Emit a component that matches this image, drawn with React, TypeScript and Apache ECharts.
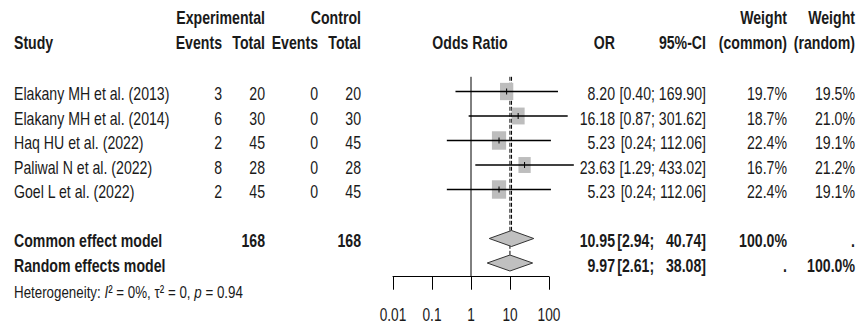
import React, { useEffect, useRef } from "react";
import * as echarts from "echarts";

// ---------- data ----------
const studies = [
  "Elakany MH et al. (2013)",
  "Elakany MH et al. (2014)",
  "Haq HU et al. (2022)",
  "Paliwal N et al. (2022)",
  "Goel L et al. (2022)",
];
const expEvents = [3, 6, 2, 8, 2];
const expTotal = [20, 30, 45, 28, 45];
const ctrlEvents = [0, 0, 0, 0, 0];
const ctrlTotal = [20, 30, 45, 28, 45];
const oddsRatio = [8.2, 16.18, 5.23, 23.63, 5.23];
const ciLower = [0.4, 0.87, 0.24, 1.29, 0.24];
const ciUpper = [169.9, 301.62, 112.06, 433.02, 112.06];
const weightCommon = [19.7, 18.7, 22.4, 16.7, 22.4];
const weightRandom = [19.5, 21.0, 19.1, 21.2, 19.1];

const pooledNames = ["Common effect model", "Random effects model"];
const pooledOR = [10.95, 9.97];
const pooledLower = [2.94, 2.61];
const pooledUpper = [40.74, 38.08];
const pooledWeightCommon = ["100.0%", "."];
const pooledWeightRandom = [".", "100.0%"];
const totalExp = 168;
const totalCtrl = 168;

const tickValues = [0.01, 0.1, 1, 10, 100];
const tickLabels = ["0.01", "0.1", "1", "10", "100"];

// ---------- layout ----------
const ROW0 = 91.5;
const ROWH = 24.5;
const Y_MIN = -1.2;
const Y_MAX = 7.56;
const LINE_TOP = -0.6;
const POOLED_ROWS = [6, 7];
const rowPx = (i: number) => ROW0 + ROWH * i;

const FONT = "Liberation Sans, Arial, Helvetica, sans-serif";
const SX = 0.785;
const INK = "#1a1a1a";

function txt(
  text: string,
  x: number,
  y: number,
  align: "left" | "right" | "center",
  bold = false,
  extra: any = {},
  sx = SX
) {
  return {
    type: "text",
    x,
    y,
    scaleX: sx,
    silent: true,
    style: {
      text,
      x: 0,
      y: 0,
      align,
      verticalAlign: "middle",
      fontSize: 18,
      fontFamily: FONT,
      fontWeight: bold ? "bold" : "normal",
      fill: INK,
      ...extra,
    },
  };
}

const COL = {
  study: 14,
  expEv: 222,
  expTot: 265,
  ctrlEv: 318,
  ctrlTot: 361,
  plot: 470,
  or: 615,
  ci: 706,
  wc: 787,
  wr: 855,
};

const fmt2 = (v: number) => v.toFixed(2);
const ciText = (l: number, u: number, pad = false) =>
  "[" + fmt2(l) + ";" + (pad ? " \u00a0\u00a0" : " ") + fmt2(u) + "]";

export default function App() {
  const ref = useRef<HTMLDivElement>(null);
  useEffect(() => {
    if (!ref.current) return;
    const chart = echarts.init(ref.current, null, { renderer: "svg" });

    const graphics: any[] = [];
    const T = 2;
    graphics.push(txt("Experimental", COL.expTot, 17, "right", true));
    graphics.push(txt("Control", COL.ctrlTot, 17, "right", true));
    graphics.push(txt("Weight", COL.wc, 17, "right", true));
    graphics.push(txt("Weight", COL.wr, 17, "right", true));
    graphics.push(txt("Study", COL.study, 42, "left", true));
    graphics.push(txt("Events", COL.expEv, 42, "right", true));
    graphics.push(txt("Total", COL.expTot, 42, "right", true));
    graphics.push(txt("Events", COL.ctrlEv, 42, "right", true));
    graphics.push(txt("Total", COL.ctrlTot, 42, "right", true));
    graphics.push(txt("Odds Ratio", COL.plot, 42, "center", true));
    graphics.push(txt("OR", COL.or, 42, "right", true));
    graphics.push(txt("95%-CI", COL.ci, 42, "right", true));
    graphics.push(txt("(common)", COL.wc, 42, "right", true));
    graphics.push(txt("(random)", COL.wr, 42, "right", true));

    studies.forEach((s, i) => {
      const y = rowPx(i) + T;
      graphics.push(txt(s, COL.study, y, "left"));
      graphics.push(txt(String(expEvents[i]), COL.expEv, y, "right"));
      graphics.push(txt(String(expTotal[i]), COL.expTot, y, "right"));
      graphics.push(txt(String(ctrlEvents[i]), COL.ctrlEv, y, "right"));
      graphics.push(txt(String(ctrlTotal[i]), COL.ctrlTot, y, "right"));
      graphics.push(txt(fmt2(oddsRatio[i]), COL.or, y, "right"));
      graphics.push(txt(ciText(ciLower[i], ciUpper[i]), COL.ci, y, "right"));
      graphics.push(txt(weightCommon[i].toFixed(1) + "%", COL.wc, y, "right"));
      graphics.push(txt(weightRandom[i].toFixed(1) + "%", COL.wr, y, "right"));
    });

    pooledNames.forEach((n, k) => {
      const y = rowPx(POOLED_ROWS[k]) + T;
      graphics.push(txt(n, COL.study, y, "left", true));
      if (k === 0) {
        graphics.push(txt(String(totalExp), COL.expTot, y, "right", true));
        graphics.push(txt(String(totalCtrl), COL.ctrlTot, y, "right", true));
      }
      graphics.push(txt(fmt2(pooledOR[k]), COL.or, y, "right", true));
      graphics.push(txt(ciText(pooledLower[k], pooledUpper[k], true), COL.ci, y, "right", true));
      graphics.push(txt(pooledWeightCommon[k], COL.wc, y, "right", true));
      graphics.push(txt(pooledWeightRandom[k], COL.wr, y, "right", true));
    });

    graphics.push(
      txt("Heterogeneity: {i|I}\u00b2 = 0%, \u03c4\u00b2 = 0, {i|p} = 0.94", COL.study, 291.5, "left", false, {
        fontSize: 17,
        rich: { i: { fontStyle: "italic", fontSize: 17, fontFamily: FONT, fill: INK } },
      })
    );

    const studyData = studies.map((_, i) => [
      oddsRatio[i],
      i,
      ciLower[i],
      ciUpper[i],
      weightCommon[i],
    ]);
    const pooledData = pooledNames.map((_, k) => [
      pooledOR[k],
      POOLED_ROWS[k],
      pooledLower[k],
      pooledUpper[k],
    ]);
    const DIAMOND_HALF = 8;
    const refData = [
      [1, Y_MAX, 0, 0],
      [pooledOR[0], POOLED_ROWS[0], 1, 1],
      [pooledOR[1], POOLED_ROWS[1], 1, 1],
    ];

    const option: any = {
      animation: false,
      backgroundColor: "#ffffff",
      grid: {
        left: 393,
        width: 156,
        top: rowPx(Y_MIN),
        height: ROWH * (Y_MAX - Y_MIN),
        containLabel: false,
      },
      xAxis: {
        type: "log",
        logBase: 10,
        min: 0.01,
        max: 100,
        splitNumber: 4,
        position: "bottom",
        axisLine: { show: true, onZero: false, lineStyle: { color: "#000", width: 1 } },
        axisTick: { show: true, length: 13, inside: false, lineStyle: { color: "#000", width: 1 } },
        splitLine: { show: false },
        minorTick: { show: false },
        axisLabel: { show: false },
      },
      yAxis: {
        type: "value",
        inverse: true,
        min: Y_MIN,
        max: Y_MAX,
        show: false,
      },
      graphic: graphics,
      series: [
        {
          type: "custom",
          name: "ref",
          clip: false,
          silent: true,
          encode: { x: 0, y: 1 },
          data: refData,
          renderItem: (params: any, api: any) => {
            const xv = api.value(0);
            const top = api.coord([xv, LINE_TOP]);
            const bot = api.coord([xv, api.value(1)]);
            const dashed = api.value(2) === 1;
            const y2 = api.value(3) === 1 ? bot[1] - DIAMOND_HALF : bot[1];
            return {
              type: "line",
              shape: { x1: top[0], y1: top[1], x2: top[0], y2 },
              style: {
                stroke: "#000",
                lineWidth: 1,
                lineDash: dashed ? [4, 2] : null,
              },
            };
          },
        },
        {
          type: "custom",
          name: "studies",
          clip: false,
          silent: true,
          encode: { x: 0, y: 1 },
          data: studyData,
          renderItem: (params: any, api: any) => {
            const row = api.value(1);
            const p = api.coord([api.value(0), row]);
            const l = api.coord([api.value(2), row]);
            const u = api.coord([api.value(3), row]);
            const s = Math.sqrt(api.value(4));
            const w = s * 3.0;
            const h = s * 3.9;
            return {
              type: "group",
              children: [
                {
                  type: "rect",
                  shape: { x: p[0] - w / 2, y: p[1] - h / 2, width: w, height: h },
                  style: { fill: "#bdbdbd" },
                },
                {
                  type: "line",
                  shape: { x1: l[0], y1: p[1], x2: u[0], y2: p[1] },
                  style: { stroke: "#000", lineWidth: 1.3 },
                },
                {
                  type: "line",
                  shape: { x1: p[0], y1: p[1] - 3, x2: p[0], y2: p[1] + 3 },
                  style: { stroke: "#000", lineWidth: 1 },
                },
              ],
            };
          },
        },
        {
          type: "custom",
          name: "pooled",
          clip: false,
          silent: true,
          encode: { x: 0, y: 1 },
          data: pooledData,
          renderItem: (params: any, api: any) => {
            const row = api.value(1);
            const p = api.coord([api.value(0), row]);
            const l = api.coord([api.value(2), row]);
            const u = api.coord([api.value(3), row]);
            return {
              type: "polygon",
              shape: {
                points: [
                  [l[0], p[1]],
                  [p[0], p[1] - DIAMOND_HALF],
                  [u[0], p[1]],
                  [p[0], p[1] + DIAMOND_HALF],
                ],
              },
              style: { fill: "#c0c0c0", stroke: "#333", lineWidth: 1 },
            };
          },
        },
      ],
    };
    chart.setOption(option);

    // tick labels placed through the axis scale
    const tickGraphics = tickValues.map((v, j) => {
      const px = chart.convertToPixel({ xAxisIndex: 0 }, v) as number;
      return txt(tickLabels[j], px, 315, "center", false, { fontSize: 19 }, 0.72);
    });
    chart.setOption({ graphic: graphics.concat(tickGraphics) });

    return () => chart.dispose();
  }, []);

  return (
    <div
      ref={ref}
      style={{ position: "fixed", left: 0, top: 0, width: 866, height: 327, background: "#fff" }}
    />
  );
}
